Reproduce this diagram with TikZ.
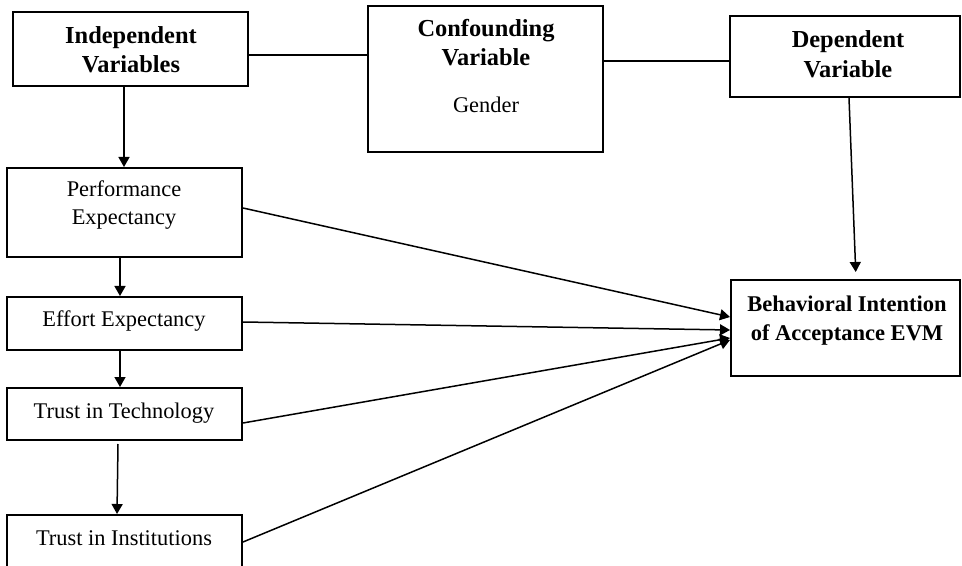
\documentclass[tikz,border=0pt]{standalone}
\usepackage{fontspec}
\setmainfont{Liberation Serif}
\usetikzlibrary{arrows.meta,fit}
\begin{document}
\begin{tikzpicture}[x=0.5pt,y=-0.5pt,
  box/.style={draw, line width=1pt, inner sep=0pt, rectangle},
  lbl/.style={anchor=base, inner sep=0pt, font=\fontsize{12.2}{14}\selectfont\bfseries},
  lbs/.style={anchor=base, inner sep=0pt, font=\fontsize{11.25}{13}\selectfont\bfseries},
  lbr/.style={anchor=base, inner sep=0pt, font=\fontsize{11.2}{13}\selectfont},
  conn/.style={line width=0.75pt},
  arr/.style={conn, -{Triangle[length=5pt,width=5.5pt]}}]
\useasboundingbox (0,0) rectangle (962,566);
\clip (0,0) rectangle (962,566);
% boxes
\node[box, fit={(13,12) (248,86)}] (ind) {};
\node[box, fit={(368,6) (603,152)}] (conf) {};
\node[box, fit={(730,16) (960,97)}] (dep) {};
\node[box, fit={(731,280) (960,376)}] (bi) {};
\node[box, fit={(7,168) (242,257)}] (perf) {};
\node[box, fit={(7,297) (242,350)}] (eff) {};
\node[box, fit={(7,388) (242,440)}] (tech) {};
\node[box, fit={(7,515) (242,572)}] (inst) {};
% texts
\node[lbl] (ind1) at (131,44) {Independent};
\node[lbl] (ind2) at (131,73) {Variables};
\node[lbl] (conf1) at (486,37) {Confounding};
\node[lbl] (conf2) at (486,66) {Variable};
\node[lbr] (conf3) at (486,113) {Gender};
\node[lbl] (dep1) at (848,48) {Dependent};
\node[lbl] (dep2) at (848,78) {Variable};
\node[lbs] (bi1) at (847,312) {Behavioral Intention};
\node[lbs] (bi2) at (847,340) {of Acceptance EVM};
\node[lbr] (perf1) at (124,197) {Performance};
\node[lbr] (perf2) at (124,225) {Expectancy};
\node[lbr] (eff1) at (124,327) {Effort Expectancy};
\node[lbr] (tech1) at (124,418) {Trust in Technology};
\node[lbr] (inst1) at (124,545) {Trust in Institutions};
% connectors
\draw[conn] ([yshift=-3pt]ind.east) -- ([yshift=-3pt]ind.east -| conf.west);
\draw[conn] ([yshift=9pt]conf.east) -- ([yshift=9pt]conf.east -| dep.west);
\draw[arr] ([xshift=-3.25pt]ind.south) -- ([xshift=-3.25pt]ind.south |- perf.north);
\draw[arr] ([xshift=-2.25pt]perf.south) -- ([xshift=-2.25pt]perf.south |- eff.north);
\draw[arr] ([xshift=-2.25pt]eff.south) -- ([xshift=-2.25pt]eff.south |- tech.north);
\draw[arr] ([xshift=-3.25pt,yshift=-1.5pt]tech.south) -- ([xshift=-3.75pt]inst.north);
\draw[arr, shorten >=3.5pt] ([xshift=2pt]dep.south) -- ([xshift=5.25pt]bi.north);
\draw[arr] ([yshift=2.25pt]perf.east) -- ([yshift=5.5pt]bi.west);
\draw[arr] ([yshift=0.75pt]eff.east) -- ([yshift=-1pt]bi.west);
\draw[arr] ([yshift=-4.5pt]tech.east) -- ([yshift=-5pt]bi.west);
\draw[arr] ([yshift=0.75pt]inst.east) -- ([yshift=-6pt]bi.west);
\end{tikzpicture}
\end{document}
